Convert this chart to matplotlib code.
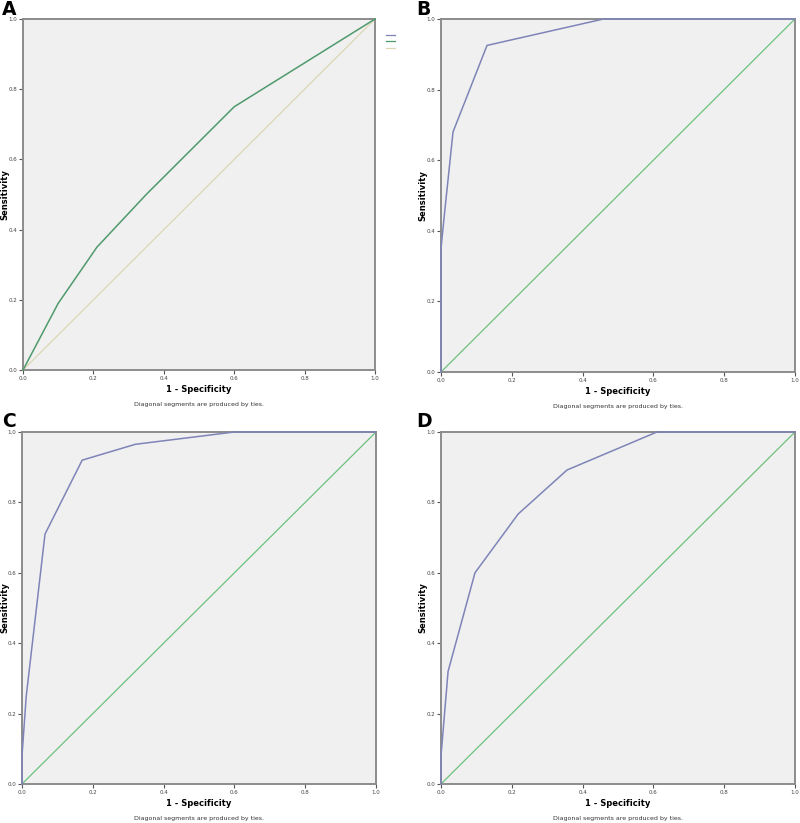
import numpy as np
import matplotlib
matplotlib.use("Agg")
import matplotlib.pyplot as plt

# ROC curves
a_fpr = [0.0, 0.10, 0.21, 0.35, 0.60, 1.0]
a_tpr = [0.0, 0.19, 0.35, 0.50, 0.75, 1.0]

b_fpr = [0.0, 0.0, 0.01, 0.034, 0.13, 0.46, 1.0]
b_tpr = [0.0, 0.35, 0.45, 0.68, 0.925, 1.0, 1.0]

c_fpr = [0.0, 0.0, 0.012, 0.065, 0.17, 0.32, 0.60, 1.0]
c_tpr = [0.0, 0.08, 0.25, 0.71, 0.92, 0.965, 1.0, 1.0]

d_fpr = [0.0, 0.0, 0.02, 0.096, 0.218, 0.356, 0.61, 1.0]
d_tpr = [0.0, 0.08, 0.32, 0.60, 0.767, 0.892, 1.0, 1.0]

ref = [0.0, 1.0]
ticks = [0.0, 0.2, 0.4, 0.6, 0.8, 1.0]
tick_labels = ["0.0", "0.2", "0.4", "0.6", "0.8", "1.0"]

curve_col = "#7f84b8"
green_col = "#4f9a6c"
diag_col = "#6cc27e"
beige_col = "#ddd6b4"

W, H = 800.0, 823.0
fig = plt.figure(figsize=(8.0, 8.23), dpi=100)

def make_ax(rect, letter, letter_xy, ylab_x):
    ax = fig.add_axes(rect)
    ax.set_facecolor("#f0f0f0")
    ax.set_xlim(0, 1)
    ax.set_ylim(0, 1)
    ax.set_xticks(ticks)
    ax.set_yticks(ticks)
    ax.set_xticklabels(tick_labels)
    ax.set_yticklabels(tick_labels)
    ax.tick_params(labelsize=4, length=3, width=0.8, color="#555555",
                   labelcolor="#444444", pad=1)
    for s in ax.spines.values():
        s.set_color("#8c8c8c")
        s.set_linewidth(1.4)
    ax.set_xlabel("1 - Specificity", fontsize=6, fontweight="bold", labelpad=3)
    pos = ax.get_position()
    fig.text(ylab_x / W, (pos.y0 + pos.y1) / 2, "Sensitivity", fontsize=6,
             fontweight="bold", rotation=90, ha="center", va="center")
    fig.text(letter_xy[0] / W, 1 - letter_xy[1] / H, letter, fontsize=13.5,
             fontweight="bold", va="top", ha="left")
    fig.text((pos.x0 + pos.x1) / 2, pos.y0 - 0.042,
             "Diagonal segments are produced by ties.", fontsize=4.5,
             ha="center", va="center", color="#333333")
    return ax

axA = make_ax([0.02875, 0.5504, 0.44, 0.4265], "A", (2, 0), 5)
axA.plot(ref, ref, color=beige_col, lw=0.9)
axA.plot(a_fpr, a_tpr, color=green_col, lw=1.1, clip_on=False, zorder=5)
# small legend swatches outside panel A
for yy, cc in zip([0.958, 0.950, 0.942], [curve_col, green_col, beige_col]):
    fig.add_artist(plt.Line2D([0.482, 0.494], [yy, yy], color=cc, lw=0.9,
                              transform=fig.transFigure))

axB = make_ax([0.55125, 0.548, 0.4425, 0.429], "B", (416, 0), 423)
axB.plot(ref, ref, color=diag_col, lw=0.9)
axB.plot(b_fpr, b_tpr, color=curve_col, lw=1.1, clip_on=False, zorder=5)

axC = make_ax([0.0275, 0.0474, 0.4425, 0.4277], "C", (2, 412), 5)
axC.plot(ref, ref, color=diag_col, lw=0.9)
axC.plot(c_fpr, c_tpr, color=curve_col, lw=1.1, clip_on=False, zorder=5)

axD = make_ax([0.55125, 0.0474, 0.4425, 0.4277], "D", (416, 412), 423)
axD.plot(ref, ref, color=diag_col, lw=0.9)
axD.plot(d_fpr, d_tpr, color=curve_col, lw=1.1, clip_on=False, zorder=5)

fig.savefig("out.png", dpi=100)
